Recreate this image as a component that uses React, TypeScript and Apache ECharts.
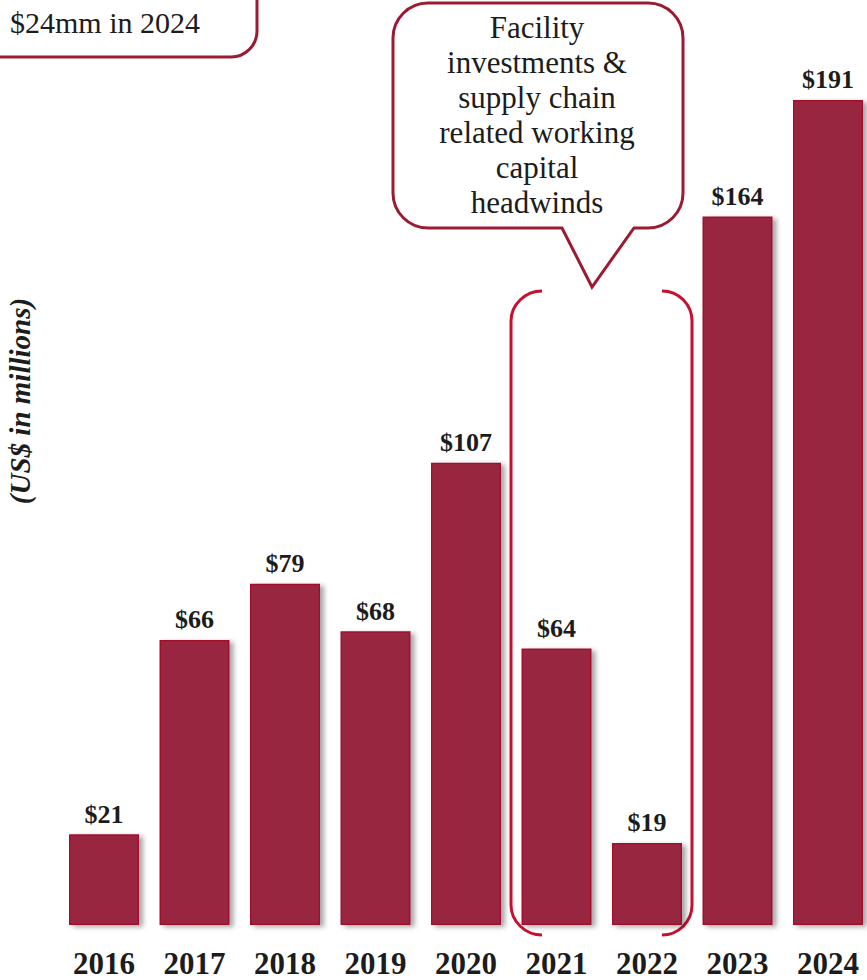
import React, { useEffect, useRef } from "react";
import * as echarts from "echarts";

const years = ["2016", "2017", "2018", "2019", "2020", "2021", "2022", "2023", "2024"];
const values = [21, 66, 79, 68, 107, 64, 19, 164, 191];
const calloutLines = ["Facility", "investments &", "supply chain", "related working", "capital", "headwinds"];
const cornerNote = "$24mm in 2024";
const yAxisTitle = "(US$ in millions)";

const BAR = "#99283F";
const BAR_EDGE = "#A3102C";
const CALLOUT = "#9A1B33";
const BRACKET = "#C8102E";
const TEXT = "#1c1c1c";
const SERIF = "'Liberation Serif', 'Times New Roman', serif";

let registered = false;
function registerShapes() {
  if (registered) return;
  registered = true;
  const k = 0.5523;
  const r = 35;
  const c = r * k;
  const callout =
    `M 428 3 L 648 3 C ${648 + c} 3 683 ${38 - c} 683 38 L 683 193 C 683 ${193 + c} ${648 + c} 228 648 228 ` +
    `L 634 228 L 592 287 L 562 228 L 428 228 C ${428 - c} 228 393 ${193 + c} 393 193 L 393 38 C 393 ${38 - c} ${428 - c} 3 428 3 Z`;
  echarts.graphic.registerShape("calloutShape", echarts.graphic.extendPath(callout, {}) as any);
  const r2 = 26;
  const c2 = r2 * k;
  const corner = `M -10 57 L ${257 - r2} 57 C ${257 - r2 + c2} 57 257 ${57 - r2 + c2} 257 ${57 - r2} L 257 -10`;
  echarts.graphic.registerShape("cornerShape", echarts.graphic.extendPath(corner, {}) as any);
  const r3 = 30;
  const c3 = r3 * k;
  const left =
    `M 542 291 C ${542 - c3} 291 511 ${321 - c3} 511 321 L 511 905 C 511 ${905 + c3} ${542 - c3} 935 542 935`;
  const right =
    `M 662 291 C ${662 + c3} 291 692 ${321 - c3} 692 321 L 692 905 C 692 ${905 + c3} ${662 + c3} 935 662 935`;
  echarts.graphic.registerShape("bracketLeft", echarts.graphic.extendPath(left, {}) as any);
  echarts.graphic.registerShape("bracketRight", echarts.graphic.extendPath(right, {}) as any);
}

export default function App() {
  const ref = useRef<HTMLDivElement>(null);
  useEffect(() => {
    if (!ref.current) return;
    registerShapes();
    const chart = echarts.init(ref.current, null, { renderer: "svg" });
    chart.setOption({
      animation: false,
      grid: { left: 58.75, width: 814.5, top: 61, bottom: 55, outerBoundsMode: "none", containLabel: false },
      xAxis: {
        type: "category",
        data: years,
        axisLine: { show: false },
        axisTick: { show: false },
        axisLabel: {
          margin: 23,
          fontFamily: SERIF,
          fontWeight: "bold",
          fontSize: 31,
          color: TEXT,
        },
      },
      yAxis: {
        type: "value",
        min: 0,
        max: 200,
        show: false,
        splitLine: { show: false },
      },
      series: [
        {
          type: "bar",
          data: values,
          barWidth: 70,
          itemStyle: {
            color: BAR,
            borderColor: BAR_EDGE,
            borderWidth: 1.5,
            shadowColor: "rgba(0,0,0,0.35)",
            shadowBlur: 5,
            shadowOffsetX: 4,
            shadowOffsetY: 2,
          },
          label: {
            show: true,
            position: "top",
            distance: 7,
            formatter: (p: any) => "$" + p.value,
            fontFamily: SERIF,
            fontWeight: "bold",
            fontSize: 26,
            color: TEXT,
          },
        },
      ],
      graphic: [
        {
          type: "cornerShape",
          x: 0,
          y: 0,
          style: { fill: "none", stroke: CALLOUT, lineWidth: 3 },
        },
        {
          type: "text",
          left: 10,
          top: 7,
          style: {
            text: cornerNote,
            font: `30px ${SERIF}`,
            fill: TEXT,
          },
        },
        {
          type: "calloutShape",
          x: 0,
          y: 0,
          style: { fill: "#fff", stroke: CALLOUT, lineWidth: 3 },
        },
        {
          type: "text",
          x: 537,
          y: 115,
          style: {
            text: calloutLines.join("\n"),
            font: `31px ${SERIF}`,
            lineHeight: 35,
            fill: TEXT,
            align: "center",
            verticalAlign: "middle",
          },
        },
        {
          type: "bracketLeft",
          x: 0,
          y: 0,
          style: { fill: "none", stroke: BRACKET, lineWidth: 3 },
        },
        {
          type: "bracketRight",
          x: 0,
          y: 0,
          style: { fill: "none", stroke: BRACKET, lineWidth: 3 },
        },
        {
          type: "text",
          x: 20,
          y: 401,
          rotation: Math.PI / 2,
          style: {
            text: yAxisTitle,
            font: `italic bold 29px ${SERIF}`,
            fill: TEXT,
            align: "center",
            verticalAlign: "middle",
          },
        },
      ],
    });
    return () => chart.dispose();
  }, []);
  return (
    <div
      ref={ref}
      style={{ position: "absolute", left: 0, top: 0, width: 867, height: 980, background: "#fff" }}
    />
  );
}
